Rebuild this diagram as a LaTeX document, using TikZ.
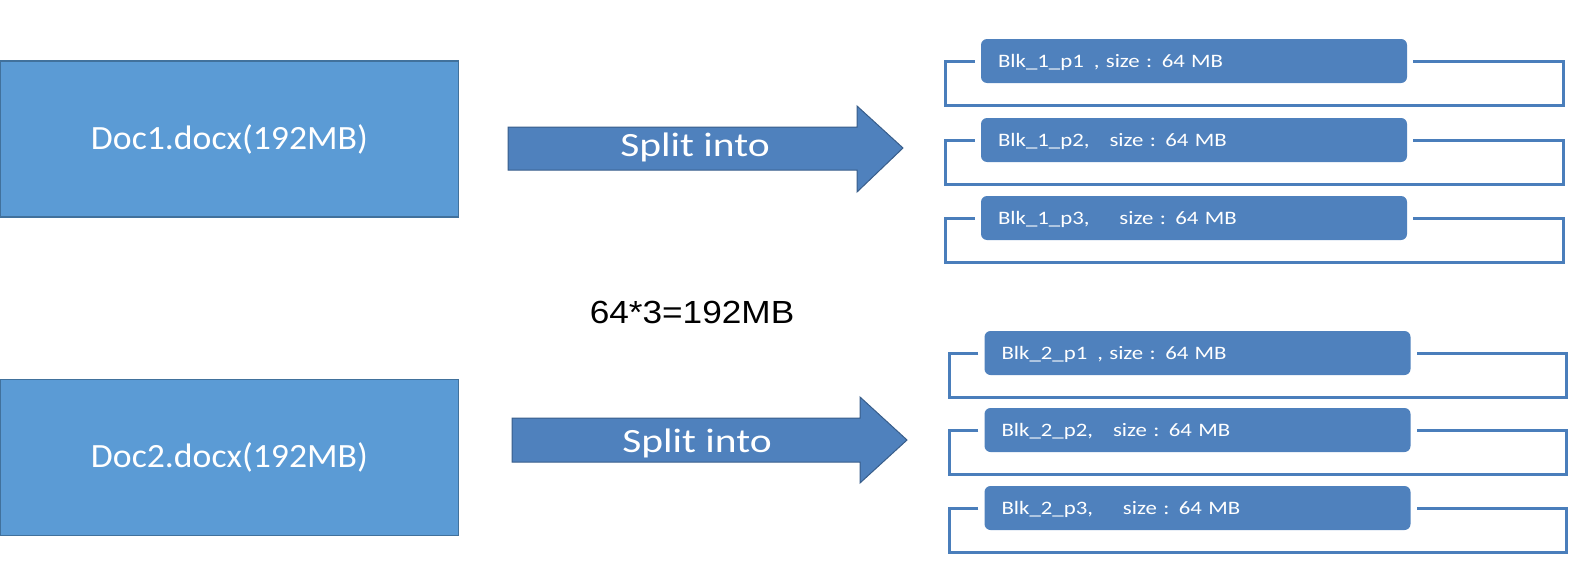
\documentclass[tikz,border=0pt]{standalone}
\usepackage{fontspec}
\setmainfont{Carlito}
\newfontfamily\docfont[FakeStretch=1.05]{Carlito}
\newfontfamily\blkfont[FakeStretch=1.2]{Carlito}
\newfontfamily\splitfont[FakeStretch=1.22]{Carlito}
\newfontfamily\calcfont[FakeStretch=1.1]{Liberation Sans}
\definecolor{docfill}{HTML}{5B9BD5}
\definecolor{docline}{HTML}{41719C}
\definecolor{blkfill}{HTML}{4F81BD}
\definecolor{arrline}{HTML}{385D8A}
\definecolor{brkline}{HTML}{4A7EBB}
\tikzset{
  docbox/.style={draw=docline, line width=1.5pt, fill=docfill, minimum width=458pt, minimum height=156pt, inner sep=0pt, text=white, font=\docfont\fontsize{34}{40}\selectfont},
  blkbox/.style={fill=blkfill, rounded corners=6pt, minimum height=44pt, text width=392pt, inner xsep=17pt, inner ysep=0pt, align=left, text height=12.5pt, text depth=0pt, text=white, font=\blkfont\fontsize{19}{21}\selectfont},
  bigarrow/.style={draw=arrline, line width=1pt, fill=blkfill},
  splittext/.style={anchor=base, text=white, inner sep=0pt, font=\splitfont\fontsize{34}{40}\selectfont},
  bracket/.style={draw=brkline, line width=3pt},
}
\begin{document}
\begin{tikzpicture}[x=1pt,y=-1pt]
\useasboundingbox (0,0) rectangle (1589,570);
% documents
\node[docbox] (d1) at (229.5,139) {Doc1.docx(192MB)};
\node[docbox] (d2) at (229.5,457.5) {Doc2.docx(192MB)};
% arrows
\draw[bigarrow] (508,127) -- (857,127) -- (857,106) -- (903,148) -- (857,192) -- (857,170) -- (508,170) -- cycle;
\node[splittext] (s1) at (695,156) {Split into};
\draw[bigarrow] (512,418) -- (860,418) -- (860,397) -- (907,440) -- (860,483) -- (860,462) -- (512,462) -- cycle;
\node[splittext] (s2) at (697,452) {Split into};
% sum
\node[anchor=base, inner sep=0pt, font=\calcfont\fontsize{32}{38}\selectfont] (sum) at (692,323) {64*3=192MB};
% blocks group 1
\node[blkbox] (b11) at (1194,61) {Blk\_1\_p1\hspace{10pt}, size : 64 MB};
\node[blkbox] (b12) at (1194,140) {Blk\_1\_p2,\hspace{20pt}size : 64 MB};
\node[blkbox] (b13) at (1194,218) {Blk\_1\_p3,\hspace{30pt}size : 64 MB};
% blocks group 2
\node[blkbox] (b21) at (1197.5,353) {Blk\_2\_p1\hspace{10pt}, size : 64 MB};
\node[blkbox] (b22) at (1197.5,430) {Blk\_2\_p2,\hspace{20pt}size : 64 MB};
\node[blkbox] (b23) at (1197.5,508) {Blk\_2\_p3,\hspace{30pt}size : 64 MB};
% brackets
\foreach \b in {b11,b12,b13,b21,b22,b23}{
  \draw[bracket] ([xshift=-6pt]\b.west) -- ([xshift=-35pt]\b.west) |- ([xshift=156pt,yshift=-44pt]\b.east) -- ([xshift=156pt]\b.east) -- ([xshift=6pt]\b.east);
}
\end{tikzpicture}
\end{document}
